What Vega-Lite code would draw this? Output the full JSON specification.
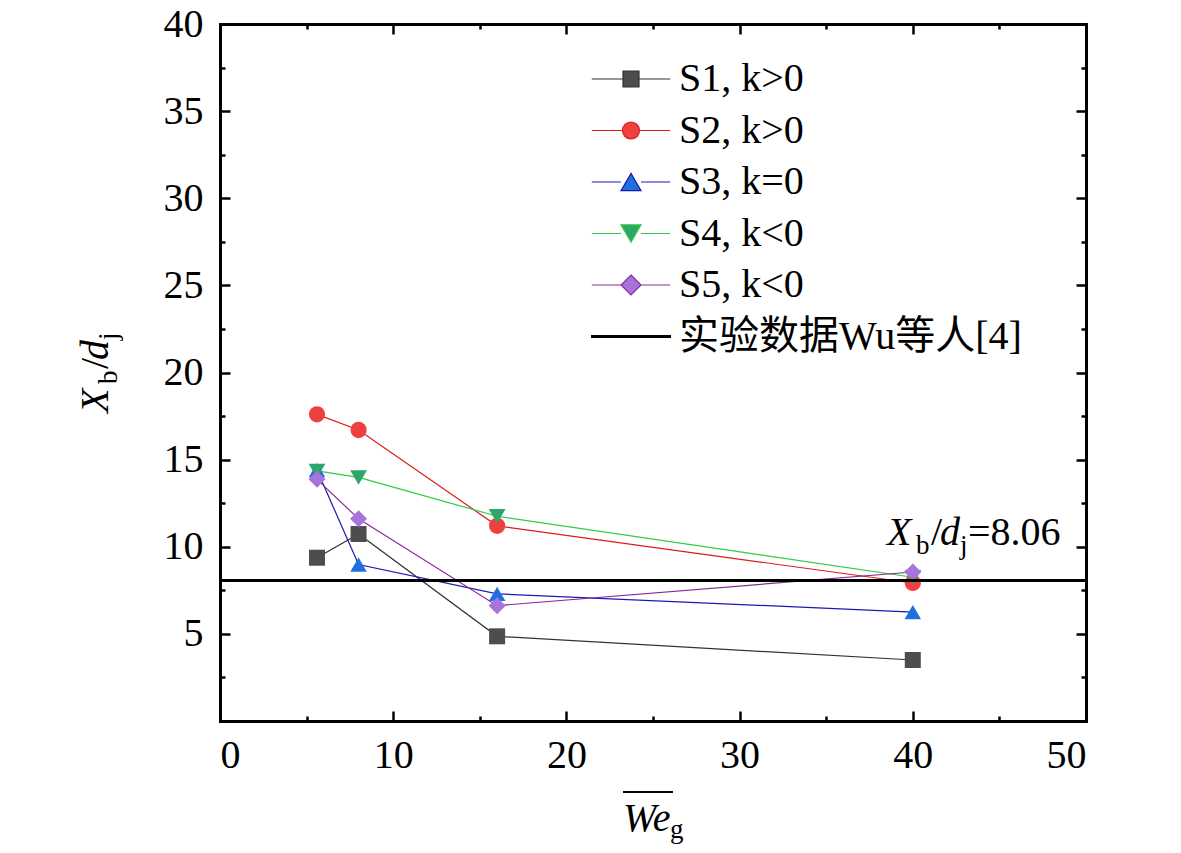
{
  "$schema": "https://vega.github.io/schema/vega-lite/v6.json",
  "width": 866,
  "height": 697,
  "autosize": {"type": "none"},
  "padding": {"left": 220, "top": 24, "right": 95, "bottom": 132},
  "background": "white",
  "config": {
    "view": {"stroke": null},
    "font": "Liberation Serif, Times New Roman, Tinos, DejaVu Serif, serif",
    "text": {"font": "Liberation Serif, Times New Roman, Tinos, DejaVu Serif, serif"},
    "axis": {
      "grid": false,
      "domainColor": "black",
      "domainWidth": 3,
      "domainCap": "square",
      "tickColor": "black",
      "tickWidth": 2.5,
      "labelFont": "Liberation Serif, Times New Roman, Tinos, DejaVu Serif, serif",
      "labelFontSize": 40,
      "labelColor": "black",
      "title": null
    }
  },
  "data": {
    "values": [
      {"s": "S1, k>0", "we": 5.6, "xb": 9.37},
      {"s": "S1, k>0", "we": 8, "xb": 10.73},
      {"s": "S1, k>0", "we": 16, "xb": 4.86},
      {"s": "S1, k>0", "we": 40, "xb": 3.5},
      {"s": "S2, k>0", "we": 5.6, "xb": 17.6},
      {"s": "S2, k>0", "we": 8, "xb": 16.7},
      {"s": "S2, k>0", "we": 16, "xb": 11.2},
      {"s": "S2, k>0", "we": 40, "xb": 7.92},
      {"s": "S3, k=0", "we": 5.6, "xb": 14.4},
      {"s": "S3, k=0", "we": 8, "xb": 8.98},
      {"s": "S3, k=0", "we": 16, "xb": 7.3},
      {"s": "S3, k=0", "we": 40, "xb": 6.25},
      {"s": "S4, k<0", "we": 5.6, "xb": 14.35},
      {"s": "S4, k<0", "we": 8, "xb": 13.98},
      {"s": "S4, k<0", "we": 16, "xb": 11.75},
      {"s": "S4, k<0", "we": 40, "xb": 8.25},
      {"s": "S5, k<0", "we": 5.6, "xb": 13.87},
      {"s": "S5, k<0", "we": 8, "xb": 11.6},
      {"s": "S5, k<0", "we": 16, "xb": 6.62},
      {"s": "S5, k<0", "we": 40, "xb": 8.55}
    ]
  },
  "resolve": {"axis": {"x": "independent", "y": "independent"}},
  "layer": [
    {
      "mark": {"type": "line", "strokeWidth": 1.2},
      "encoding": {
        "x": {
          "field": "we", "type": "quantitative",
          "scale": {"domain": [0, 50], "nice": false},
          "axis": {
            "orient": "bottom",
            "values": [0, 5, 10, 15, 20, 25, 30, 35, 40, 45, 50],
            "labelExpr": "datum.value % 10 === 0 ? datum.label : ''",
            "tickSize": {"condition": {"test": "datum.value % 10 === 0", "value": -10}, "value": -5},
            "labelPadding": 24
          }
        },
        "y": {
          "field": "xb", "type": "quantitative",
          "scale": {"domain": [0, 40], "nice": false},
          "axis": {
            "orient": "left",
            "values": [0, 2.5, 5, 7.5, 10, 12.5, 15, 17.5, 20, 22.5, 25, 27.5, 30, 32.5, 35, 37.5, 40],
            "labelExpr": "datum.value % 5 === 0 && datum.value > 0 ? datum.label : ''",
            "tickSize": {"condition": {"test": "datum.value % 5 === 0", "value": -10}, "value": -5},
            "labelPadding": 27
          }
        },
        "color": {
          "field": "s", "type": "nominal",
          "scale": {
            "domain": ["S1, k>0", "S2, k>0", "S3, k=0", "S4, k<0", "S5, k<0", "实验数据Wu等人[4]"],
            "range": ["#333333", "#dd1a1a", "#1a1ab4", "#2ecc40", "#8a2a9a", "#000000"]
          },
          "legend": {
            "orient": "none",
            "legendX": 391,
            "legendY": 35,
            "title": null,
            "padding": 0,
            "rowPadding": 11.5,
            "symbolSize": 256,
            "labelOffset": 28,
            "labelFont": "Liberation Serif, Times New Roman, Tinos, Noto Sans CJK SC, serif",
            "labelFontSize": 40,
            "labelColor": "black",
            "labelLimit": 0,
            "encode": {
              "symbols": {
                "update": {
                  "shape": {"signal": "['M-4.9,0H-1M1,0H4.9M-1,-1H1V1H-1Z','M-4.9,0H-1.06M1.06,0H4.9M-1.06,0A1.06,1.06,0,1,1,1.06,0A1.06,1.06,0,1,1,-1.06,0Z','M-4.9,0H-1.25M1.25,0H4.9M0,-1.08L1.25,1.08L-1.25,1.08Z','M-4.9,0H-1.25M1.25,0H4.9M0,1.08L1.25,-1.08L-1.25,-1.08Z','M-4.9,0H-1.25M1.25,0H4.9M0,-1.25L1.25,0L0,1.25L-1.25,0Z','M-5,0H5'][datum.index]"},
                  "fill": {"signal": "['#4d4d4d','#ef4040','#1f6fe0','#2ea56a','#a874dc','transparent'][datum.index]"},
                  "strokeWidth": {"signal": "datum.index === 5 ? 3 : 1.2"},
                  "size": {"value": 256},
                  "opacity": {"value": 1}
                }
              }
            }
          }
        }
      }
    },
    {
      "mark": {"type": "point", "filled": true, "strokeWidth": 0, "opacity": 1},
      "encoding": {
        "x": {
          "field": "we", "type": "quantitative",
          "scale": {"domain": [0, 50], "nice": false},
          "axis": {
            "orient": "top",
            "values": [0, 5, 10, 15, 20, 25, 30, 35, 40, 45, 50],
            "labels": false,
            "tickSize": {"condition": {"test": "datum.value % 10 === 0", "value": -10}, "value": -5}
          }
        },
        "y": {
          "field": "xb", "type": "quantitative",
          "scale": {"domain": [0, 40], "nice": false},
          "axis": {
            "orient": "right",
            "values": [0, 2.5, 5, 7.5, 10, 12.5, 15, 17.5, 20, 22.5, 25, 27.5, 30, 32.5, 35, 37.5, 40],
            "labels": false,
            "tickSize": {"condition": {"test": "datum.value % 5 === 0", "value": -10}, "value": -5}
          }
        },
        "shape": {
          "field": "s", "type": "nominal",
          "scale": {
            "domain": ["S1, k>0", "S2, k>0", "S3, k=0", "S4, k<0", "S5, k<0"],
            "range": ["square", "circle", "triangle-up", "triangle-down", "diamond"]
          },
          "legend": null
        },
        "fill": {
          "field": "s", "type": "nominal",
          "scale": {
            "domain": ["S1, k>0", "S2, k>0", "S3, k=0", "S4, k<0", "S5, k<0"],
            "range": ["#4d4d4d", "#ef4040", "#1f6fe0", "#2ea56a", "#a874dc"]
          },
          "legend": null
        },
        "size": {
          "field": "s", "type": "nominal",
          "scale": {
            "domain": ["S1, k>0", "S2, k>0", "S3, k=0", "S4, k<0", "S5, k<0"],
            "range": [256, 289, 400, 400, 400]
          },
          "legend": null
        }
      }
    },
    {
      "data": {"values": [{"ref": "Wu"}]},
      "mark": {"type": "rule", "strokeWidth": 3},
      "encoding": {
        "y": {"datum": 8.06, "type": "quantitative", "scale": {"domain": [0, 40], "nice": false}, "axis": null},
        "color": {"datum": "实验数据Wu等人[4]"}
      }
    },
    {
      "data": {"values": [{"ref": "Wu"}]},
      "mark": {"type": "text", "text": "X", "fontSize": 40, "fontStyle": "italic", "align": "left", "baseline": "alphabetic", "color": "black"},
      "encoding": {
        "x": {"datum": 38.51, "type": "quantitative", "scale": {"domain": [0, 50], "nice": false}, "axis": null},
        "y": {"datum": 10.1, "type": "quantitative", "scale": {"domain": [0, 40], "nice": false}, "axis": null}
      }
    },
    {
      "data": {"values": [{"ref": "Wu"}]},
      "mark": {"type": "text", "text": "b", "fontSize": 27, "align": "left", "baseline": "alphabetic", "dx": 29, "dy": 9, "color": "black"},
      "encoding": {
        "x": {"datum": 38.51, "type": "quantitative", "scale": {"domain": [0, 50], "nice": false}, "axis": null},
        "y": {"datum": 10.1, "type": "quantitative", "scale": {"domain": [0, 40], "nice": false}, "axis": null}
      }
    },
    {
      "data": {"values": [{"ref": "Wu"}]},
      "mark": {"type": "text", "text": "/", "fontSize": 40, "align": "left", "baseline": "alphabetic", "dx": 44, "color": "black"},
      "encoding": {
        "x": {"datum": 38.51, "type": "quantitative", "scale": {"domain": [0, 50], "nice": false}, "axis": null},
        "y": {"datum": 10.1, "type": "quantitative", "scale": {"domain": [0, 40], "nice": false}, "axis": null}
      }
    },
    {
      "data": {"values": [{"ref": "Wu"}]},
      "mark": {"type": "text", "text": "d", "fontSize": 40, "fontStyle": "italic", "align": "left", "baseline": "alphabetic", "dx": 53, "color": "black"},
      "encoding": {
        "x": {"datum": 38.51, "type": "quantitative", "scale": {"domain": [0, 50], "nice": false}, "axis": null},
        "y": {"datum": 10.1, "type": "quantitative", "scale": {"domain": [0, 40], "nice": false}, "axis": null}
      }
    },
    {
      "data": {"values": [{"ref": "Wu"}]},
      "mark": {"type": "text", "text": "j", "fontSize": 27, "align": "left", "baseline": "alphabetic", "dx": 73, "dy": 9, "color": "black"},
      "encoding": {
        "x": {"datum": 38.51, "type": "quantitative", "scale": {"domain": [0, 50], "nice": false}, "axis": null},
        "y": {"datum": 10.1, "type": "quantitative", "scale": {"domain": [0, 40], "nice": false}, "axis": null}
      }
    },
    {
      "data": {"values": [{"ref": "Wu"}]},
      "mark": {"type": "text", "text": "=8.06", "fontSize": 40, "align": "left", "baseline": "alphabetic", "dx": 81, "color": "black"},
      "encoding": {
        "x": {"datum": 38.51, "type": "quantitative", "scale": {"domain": [0, 50], "nice": false}, "axis": null},
        "y": {"datum": 10.1, "type": "quantitative", "scale": {"domain": [0, 40], "nice": false}, "axis": null}
      }
    },
    {
      "data": {"values": [{"ref": "Wu"}]},
      "mark": {"type": "text", "text": "X", "fontSize": 40, "fontStyle": "italic", "align": "left", "baseline": "alphabetic", "angle": 270, "color": "black"},
      "encoding": {
        "x": {"datum": -6.47, "type": "quantitative", "scale": {"domain": [0, 50], "nice": false}, "axis": null},
        "y": {"datum": 17.68, "type": "quantitative", "scale": {"domain": [0, 40], "nice": false}, "axis": null}
      }
    },
    {
      "data": {"values": [{"ref": "Wu"}]},
      "mark": {"type": "text", "text": "b", "fontSize": 27, "align": "left", "baseline": "alphabetic", "angle": 270, "dx": 29, "dy": 9, "color": "black"},
      "encoding": {
        "x": {"datum": -6.47, "type": "quantitative", "scale": {"domain": [0, 50], "nice": false}, "axis": null},
        "y": {"datum": 17.68, "type": "quantitative", "scale": {"domain": [0, 40], "nice": false}, "axis": null}
      }
    },
    {
      "data": {"values": [{"ref": "Wu"}]},
      "mark": {"type": "text", "text": "/", "fontSize": 40, "align": "left", "baseline": "alphabetic", "angle": 270, "dx": 44, "color": "black"},
      "encoding": {
        "x": {"datum": -6.47, "type": "quantitative", "scale": {"domain": [0, 50], "nice": false}, "axis": null},
        "y": {"datum": 17.68, "type": "quantitative", "scale": {"domain": [0, 40], "nice": false}, "axis": null}
      }
    },
    {
      "data": {"values": [{"ref": "Wu"}]},
      "mark": {"type": "text", "text": "d", "fontSize": 40, "fontStyle": "italic", "align": "left", "baseline": "alphabetic", "angle": 270, "dx": 53, "color": "black"},
      "encoding": {
        "x": {"datum": -6.47, "type": "quantitative", "scale": {"domain": [0, 50], "nice": false}, "axis": null},
        "y": {"datum": 17.68, "type": "quantitative", "scale": {"domain": [0, 40], "nice": false}, "axis": null}
      }
    },
    {
      "data": {"values": [{"ref": "Wu"}]},
      "mark": {"type": "text", "text": "j", "fontSize": 27, "align": "left", "baseline": "alphabetic", "angle": 270, "dx": 73, "dy": 9, "color": "black"},
      "encoding": {
        "x": {"datum": -6.47, "type": "quantitative", "scale": {"domain": [0, 50], "nice": false}, "axis": null},
        "y": {"datum": 17.68, "type": "quantitative", "scale": {"domain": [0, 40], "nice": false}, "axis": null}
      }
    },
    {
      "data": {"values": [{"ref": "Wu"}]},
      "mark": {"type": "text", "text": "We", "fontSize": 40, "fontStyle": "italic", "align": "left", "baseline": "alphabetic", "color": "black"},
      "encoding": {
        "x": {"datum": 23.27, "type": "quantitative", "scale": {"domain": [0, 50], "nice": false}, "axis": null},
        "y": {"datum": -6.31, "type": "quantitative", "scale": {"domain": [0, 40], "nice": false}, "axis": null}
      }
    },
    {
      "data": {"values": [{"ref": "Wu"}]},
      "mark": {"type": "text", "text": "g", "fontSize": 27, "align": "left", "baseline": "alphabetic", "dx": 47, "dy": 7, "color": "black"},
      "encoding": {
        "x": {"datum": 23.27, "type": "quantitative", "scale": {"domain": [0, 50], "nice": false}, "axis": null},
        "y": {"datum": -6.31, "type": "quantitative", "scale": {"domain": [0, 40], "nice": false}, "axis": null}
      }
    },
    {
      "data": {"values": [{"ref": "Wu"}]},
      "mark": {"type": "rule", "strokeWidth": 2, "color": "black"},
      "encoding": {
        "x": {"datum": 23.27, "type": "quantitative", "scale": {"domain": [0, 50], "nice": false}, "axis": null},
        "x2": {"datum": 26.15},
        "y": {"datum": -4.07, "type": "quantitative", "scale": {"domain": [0, 40], "nice": false}, "axis": null}
      }
    }
  ]
}
